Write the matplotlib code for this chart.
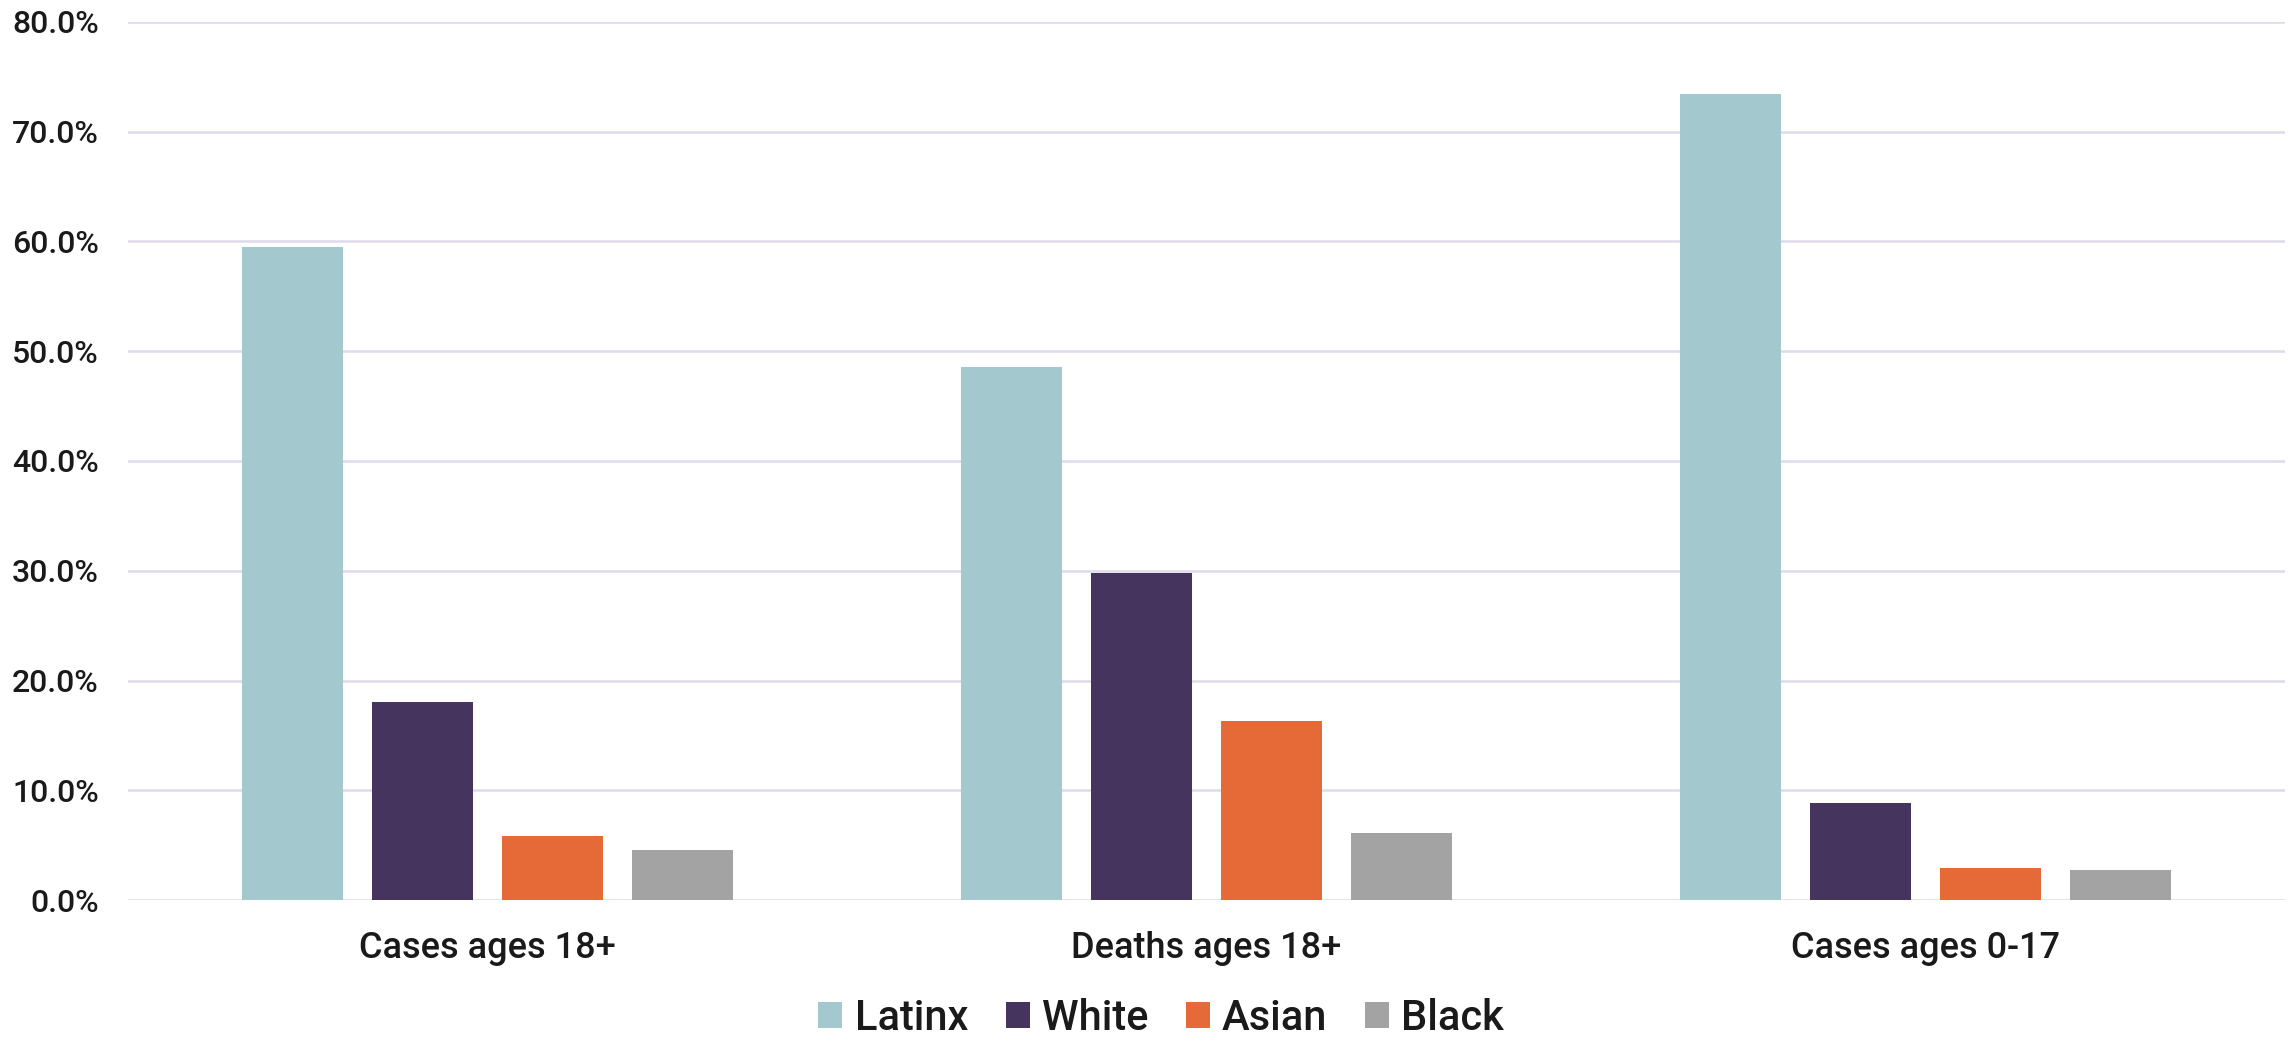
import matplotlib

matplotlib.use("Agg")
import matplotlib.pyplot as plt
import numpy as np
from matplotlib.ticker import FuncFormatter

plt.rcParams["font.family"] = ["Roboto", "DejaVu Sans"]
plt.rcParams["font.weight"] = "medium"

# Share of each group, in percent
categories = ["Cases ages 18+", "Deaths ages 18+", "Cases ages 0-17"]
groups = ["Latinx", "White", "Asian", "Black"]
latinx = [59.5, 48.6, 73.4]
white = [18.0, 29.8, 8.8]
asian = [5.8, 16.3, 2.9]
black = [4.6, 6.1, 2.7]

colors = ["#a3c9cf", "#45345e", "#e56a38", "#a3a3a3"]
text_color = "#1a1a1a"
grid_color = "#dfd9ea"

W, H = 2292, 1041
fig = plt.figure(figsize=(W / 100, H / 100), dpi=100)
ax = fig.add_axes([128 / W, 1 - 900 / H, (2285 - 128) / W, (900 - 22) / H])

x = np.arange(len(categories))
bar_w = 0.1405
pitch = 0.181
for i, (name, vals) in enumerate(zip(groups, [latinx, white, asian, black])):
    ax.bar(x + (i - 1.5) * pitch, vals, width=bar_w, color=colors[i],
           label=name, zorder=3, linewidth=0)

ax.set_xlim(-0.5, len(categories) - 0.5)
ax.set_ylim(0, 80)
ax.set_yticks(np.arange(0, 81, 10))
ax.yaxis.set_major_formatter(FuncFormatter(lambda v, _: f"{v:.1f}%"))
ax.set_xticks(x, categories)

ax.grid(axis="y", color=grid_color, linewidth=1.8, zorder=0)
for side in ["top", "right", "left", "bottom"]:
    ax.spines[side].set_visible(False)
ax.tick_params(axis="y", length=0, pad=21, labelsize=23, labelcolor=text_color)
ax.tick_params(axis="x", length=0, pad=22, labelsize=26, labelcolor=text_color)

fig.legend(loc="center", bbox_to_anchor=(1161 / W, 1 - 1018 / H), ncol=4,
           frameon=False, fontsize=30, handlelength=0.58, handleheight=0.58,
           handletextpad=0.29, columnspacing=0.9, borderpad=0,
           labelcolor=text_color)

fig.savefig("out.png", dpi=100, facecolor="white")
